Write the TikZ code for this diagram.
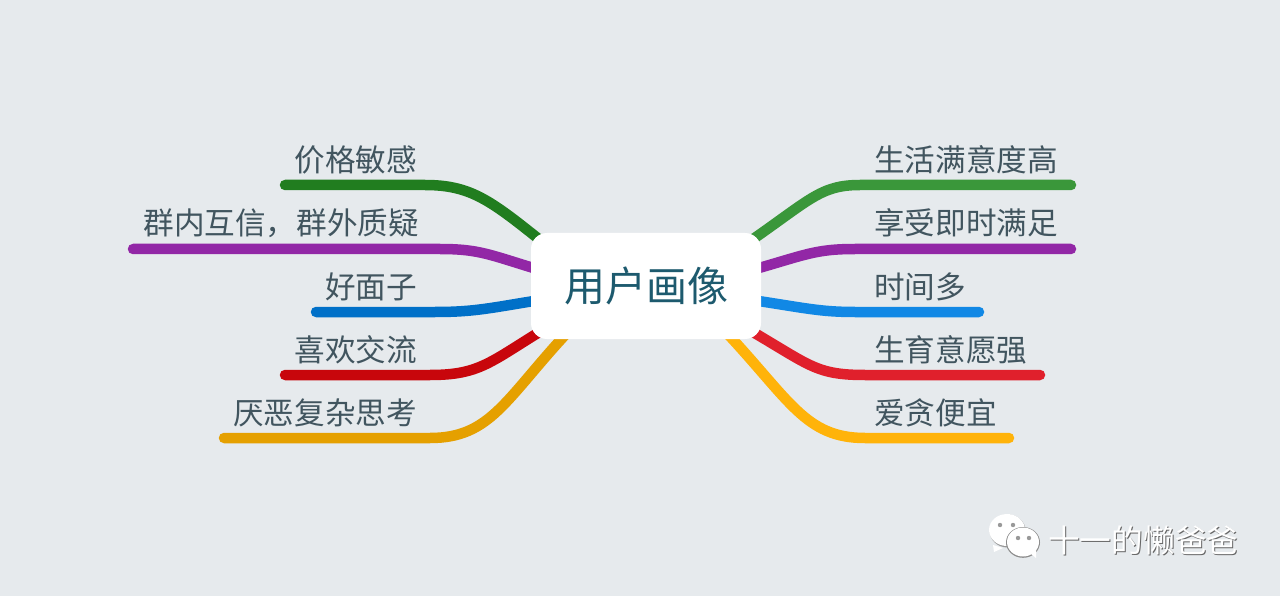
\documentclass[tikz,border=0pt]{standalone}
\usepackage{fontspec}
\setmainfont{Noto Sans CJK SC}
\usepackage{tikz}
\usetikzlibrary{backgrounds}

\definecolor{bgcol}{HTML}{E6EAED}
\definecolor{labelcol}{HTML}{41555F}
\definecolor{titlecol}{HTML}{1D5A6E}
\definecolor{greenL}{HTML}{217D1F}
\definecolor{purpleL}{HTML}{9227A6}
\definecolor{blueL}{HTML}{0070C8}
\definecolor{redL}{HTML}{C8060C}
\definecolor{orangeL}{HTML}{E5A000}
\definecolor{greenR}{HTML}{3A973A}
\definecolor{purpleR}{HTML}{9227A6}
\definecolor{blueR}{HTML}{1188E5}
\definecolor{redR}{HTML}{E0202C}
\definecolor{yellowR}{HTML}{FFB30A}

\tikzset{
  branch/.style={line width=10.5pt, line cap=round},
  leaf/.style={text=labelcol, inner sep=0pt, font=\fontsize{30.6}{36}\selectfont},
  hub/.style={fill=white, rounded corners=16pt, minimum width=230pt, minimum height=106pt, inner sep=0pt, text=titlecol, font=\fontsize{41}{48}\selectfont},
  mark text/.style={inner sep=0pt, font=\fontsize{31.7}{38}\selectfont}
}

\begin{document}
\begin{tikzpicture}[x=1pt, y=-1pt]
\useasboundingbox (0,0) rectangle (1280,596);

\node[hub] (hub) at (646,286) {用户画像};

% left side
\node[leaf, anchor=east] (priceL) at (417,160) {价格敏感};
\node[leaf, anchor=east] (groupL) at (419,223) {群内互信，群外质疑};
\node[leaf, anchor=east] (faceL) at (417,287) {好面子};
\node[leaf, anchor=east] (talkL) at (417,350) {喜欢交流};
\node[leaf, anchor=east] (thinkL) at (417,413) {厌恶复杂思考};

% right side
\node[leaf, anchor=west] (lifeR) at (874,160) {生活满意度高};
\node[leaf, anchor=west] (nowR) at (874,223) {享受即时满足};
\node[leaf, anchor=west] (timeR) at (874,287) {时间多};
\node[leaf, anchor=west] (kidsR) at (874,350) {生育意愿强};
\node[leaf, anchor=west] (cheapR) at (874,413) {爱贪便宜};

% free ends of the underlines
\coordinate (priceE) at (285,185);
\coordinate (groupE) at (133,249);
\coordinate (faceE) at (316,312);
\coordinate (talkE) at (285,375);
\coordinate (thinkE) at (224,438);
\coordinate (lifeE) at (1071,185);
\coordinate (nowE) at (1071,249);
\coordinate (timeE) at (979,312);
\coordinate (kidsE) at (1040,375);
\coordinate (cheapE) at (1009,438);

\begin{scope}[on background layer]
\fill[bgcol] (0,0) rectangle (1280,596);

\draw[branch, greenL] (hub.center) ++(-106,-46) .. controls (490,200) and (470,185) .. (425,185) -- (priceE);
\draw[branch, purpleL] (hub.center) ++(-106,-16) .. controls (490,255) and (480,249) .. (440,249) -- (groupE);
\draw[branch, blueL] (hub.center) ++(-106,14) .. controls (490,308) and (475,312) .. (435,312) -- (faceE);
\draw[branch, redL] (hub.center) ++(-100,42) .. controls (490,362) and (480,375) .. (430,375) -- (talkE);
\draw[branch, orangeL] (hub.center) ++(-80,48) .. controls (505,400) and (490,438) .. (430,438) -- (thinkE);

\draw[branch, greenR] (hub.center) ++(100,-42) .. controls (810,200) and (820,185) .. (860,185) -- (lifeE);
\draw[branch, purpleR] (hub.center) ++(106,-16) .. controls (805,255) and (815,249) .. (855,249) -- (nowE);
\draw[branch, blueR] (hub.center) ++(106,14) .. controls (805,308) and (820,312) .. (855,312) -- (timeE);
\draw[branch, redR] (hub.center) ++(100,42) .. controls (810,365) and (815,375) .. (865,375) -- (kidsE);
\draw[branch, yellowR] (hub.center) ++(78,44) .. controls (790,400) and (805,438) .. (865,438) -- (cheapE);
\end{scope}

% watermark
\fill[black!40] (1007.6,531) ellipse (18 and 16.5);
\fill[white] (1007,530) ellipse (18 and 16);
\fill[white] (993,545) -- (994,552) -- (1003,548) -- cycle;
\fill[black!45] (1023,542.4) ellipse (17 and 15.4);
\fill[white] (1023,542) ellipse (16 and 14.5);
\fill[white] (1030,553) -- (1036,558) -- (1036,550) -- cycle;
\fill[black!40] (1000,525) circle (2.2) (1013,525) circle (2.2) (1018,538) circle (2.2) (1029,538) circle (2.2);
\node[mark text, anchor=west, text=black!60] (markshadow) at (1049,541) {十一的懒爸爸};
\node[mark text, anchor=west, text=white] (mark) at (1048,540) {十一的懒爸爸};
\end{tikzpicture}
\end{document}
